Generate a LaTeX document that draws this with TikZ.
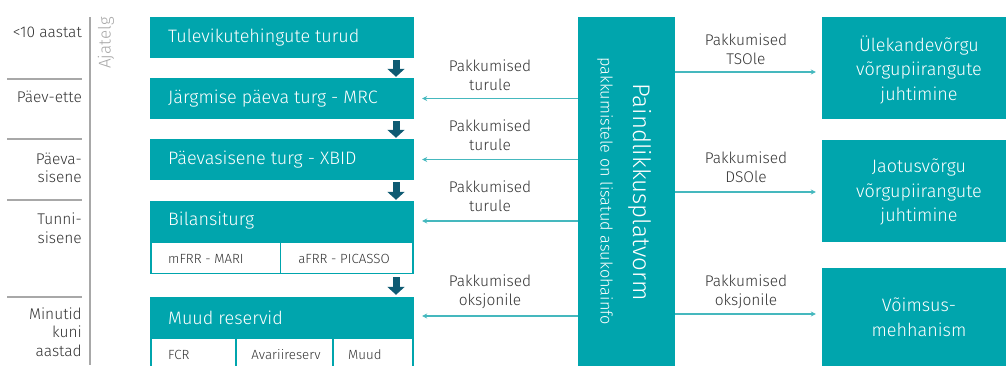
\documentclass[tikz,border=0pt]{standalone}
\usepackage{fontspec}
\setmainfont{Fira Sans}[UprightFont={* Light}]
\usetikzlibrary{arrows.meta}
\definecolor{tealbox}{HTML}{00A5AD}
\definecolor{arr}{HTML}{45B8BE}
\definecolor{darkarr}{HTML}{0E5B73}
\definecolor{txt}{HTML}{333333}
\definecolor{axis}{HTML}{A8A8A8}
\begin{document}
\begin{tikzpicture}[x=1pt,y=-1pt,
 box/.style={fill=tealbox, inner sep=0pt, draw=none},
 title/.style={anchor=west, text=white, inner sep=0pt, font=\fontsize{18}{20}\selectfont},
 cell/.style={fill=white, inner sep=0pt, draw=none},
 celltext/.style={text=txt, inner sep=0pt, font=\fontsize{13.3}{15}\selectfont},
 lbl/.style={text=txt, align=center, inner sep=0pt, font=\fontsize{15.5}{19}\selectfont},
 tl/.style={text=txt, align=right, anchor=east, inner sep=0pt, font=\fontsize{15.5}{18.5}\selectfont},
 rtext/.style={text=white, align=center, inner sep=0pt, font=\fontsize{18}{24.5}\selectfont},
 flow/.style={draw=arr, line width=1.5pt, -{Stealth[length=5pt,width=5pt]}},
 down/.style={draw=darkarr, line width=7pt, -{Triangle[length=8pt,width=17pt]}},
 sep/.style={draw=axis, line width=1.5pt},
]
\useasboundingbox (0,0) rectangle (1006,365);
\begin{scope}
\clip (0,0) rectangle (1006,365);

% time axis
\draw[sep] (7,79) -- (82,79);
\draw[sep] (7,139) -- (82,139);
\draw[sep] (7,200) -- (82,200);
\draw[sep] (7,297) -- (82,297);
\draw[draw=axis, line width=2pt] (90,17) -- (90,365);
\node[rotate=90, text=axis, inner sep=0pt, font=\fontsize{17}{19}\selectfont] (ajatelg) at (106,43) {Ajatelg};
\node[tl] (t1) at (82,32) {<10 aastat};
\node[tl] (t2) at (82,97) {Päev-ette};
\node[tl] (t3) at (82,168) {Päeva-\\sisene};
\node[tl] (t4) at (82,228) {Tunni-\\sisene};
\node[tl] (t5) at (82,332) {Minutid\\kuni\\aastad};

% market boxes
\node[box, minimum width=264pt, minimum height=41pt] (tule) at (282,37.5) {};
\node[title] (tuletxt) at (168,37.5) {Tulevikutehingute turud};
\node[box, minimum width=264pt, minimum height=41pt] (jar) at (282,98.5) {};
\node[title] (jartxt) at (168,98.5) {Järgmise päeva turg - MRC};
\node[box, minimum width=264pt, minimum height=41pt] (paev) at (282,159.5) {};
\node[title] (paevtxt) at (168,159.5) {Päevasisene turg - XBID};
\node[box, minimum width=264pt, minimum height=73pt] (bil) at (282,237.5) {};
\node[title] (biltxt) at (168,221) {Bilansiturg};
\node[cell, minimum width=128pt, minimum height=30pt] (mfrr) at (216,258) {};
\node[celltext, anchor=west] (mfrrtxt) at (168,258.5) {mFRR - MARI};
\node[cell, minimum width=131pt, minimum height=30pt] (afrr) at (346.5,258) {};
\node[celltext] (afrrtxt) at (344,258.5) {aFRR - PICASSO};
\node[box, minimum width=264pt, minimum height=75pt] (muud) at (282,334.5) {};
\node[title] (muudtxt) at (168,318) {Muud reservid};
\node[cell, minimum width=83pt, minimum height=32pt] (fcr) at (193.5,355) {};
\node[celltext, anchor=west] (fcrtxt) at (168,354.5) {FCR};
\node[cell, minimum width=95pt, minimum height=32pt] (avar) at (284.5,355) {};
\node[celltext] (avartxt) at (286,354.5) {Avariireserv};
\node[cell, minimum width=78pt, minimum height=32pt] (muud2) at (373,355) {};
\node[celltext, anchor=west] (muud2txt) at (348,354.5) {Muud};

% down arrows
\draw[down, shorten <=2pt, shorten >=1pt] (tule.south -| 396,0) -- (jar.north -| 396,0);
\draw[down, shorten <=2pt, shorten >=1pt] (jar.south -| 396,0) -- (paev.north -| 396,0);
\draw[down, shorten <=2pt, shorten >=1pt] (paev.south -| 396,0) -- (bil.north -| 396,0);
\draw[down, shorten <=3pt, shorten >=2pt] (bil.south -| 396,0) -- (muud.north -| 396,0);

% platform
\node[box, minimum width=97pt, minimum height=353pt] (plat) at (626.5,193.5) {};
\node[rotate=-90, text=white, inner sep=0pt, font=\fontsize{24}{26}\selectfont] (plattitle) at (640,192) {Paindlikkusplatvorm};
\node[rotate=-90, text=white, inner sep=0pt, font=\fontsize{16.3}{18}\selectfont] (platsub) at (605,191) {pakkumistele on lisatud asukohainfo};

% left flows
\draw[flow, shorten >=8pt] (plat.west |- jar.east) -- (jar.east);
\draw[flow, shorten >=8pt] (plat.west |- paev.east) -- (paev.east);
\draw[flow, shorten >=8pt] (plat.west |- biltxt) -- (bil.east |- biltxt);
\draw[flow, shorten >=8pt] (plat.west |- 0,316) -- (muud.east |- 0,316);
\node[lbl] (l1) at (490,75.5) {Pakkumised\\turule};
\node[lbl] (l2) at (490,135.5) {Pakkumised\\turule};
\node[lbl] (l3) at (490,196) {Pakkumised\\turule};
\node[lbl] (l4) at (490,292) {Pakkumised\\oksjonile};

% right boxes
\node[box, minimum width=188pt, minimum height=102pt] (r1) at (916,68) {};
\node[rtext] (r1txt) at (919,70) {Ülekandevõrgu\\võrgupiirangute\\juhtimine};
\node[box, minimum width=188pt, minimum height=102pt] (r2) at (916,191) {};
\node[rtext] (r2txt) at (919,192) {Jaotusvõrgu\\võrgupiirangute\\juhtimine};
\node[box, minimum width=188pt, minimum height=102pt] (r3) at (916,319) {};
\node[rtext] (r3txt) at (919,317.5) {Võimsus-\\mehhanism};

% right flows
\draw[flow, shorten >=6pt] (plat.east |- 0,72) -- (r1.west |- 0,72);
\draw[flow, shorten >=6pt] (plat.east |- 0,192) -- (r2.west |- 0,192);
\draw[flow, shorten >=6pt] (plat.east |- 0,314) -- (r3.west |- 0,314);
\node[lbl] (l5) at (746,49) {Pakkumised\\TSOle};
\node[lbl] (l6) at (746,167.5) {Pakkumised\\DSOle};
\node[lbl] (l7) at (746,292) {Pakkumised\\oksjonile};
\end{scope}
\end{tikzpicture}
\end{document}
